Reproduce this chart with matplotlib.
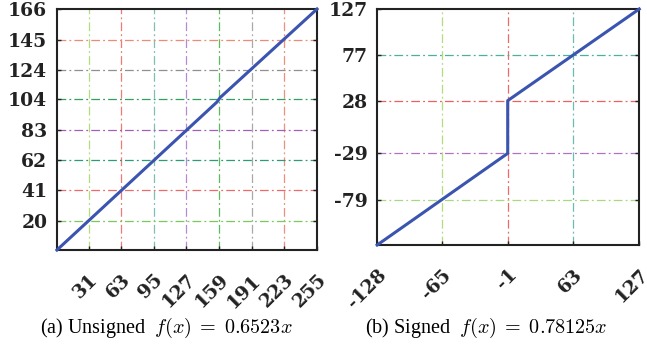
import numpy as np
import matplotlib.pyplot as plt

plt.rcParams['font.family'] = ['Liberation Serif', 'DejaVu Serif']
plt.rcParams['mathtext.fontset'] = 'cm'

# (a) unsigned mapping, small kink near 104
ux = [0, 157, 160, 255]
uy = [0, 102, 105, 166]
u_xticks = [31, 63, 95, 127, 159, 191, 223, 255]
u_yticks = [20, 41, 62, 83, 104, 124, 145, 166]
u_xgrid_col = ['#b5dc7a', '#ee7b76', '#7cc0b5', '#b68ad0', '#5cbb5c', '#a8a8a8', '#ee8f80']
u_ygrid_col = ['#7cc85a', '#ee6a6a', '#2e9a7a', '#a060b8', '#30a060', '#909090', '#ef8a78']

# (b) signed mapping with jump at -1
sx = [-128, -1, -1, 127]
sy = [-128, -29, 28, 127]
s_xticks = [-128, -65, -1, 63, 127]
s_yticks = [-79, -29, 28, 77, 127]
s_xgrid_col = ['#b5dc7a', '#ee6a6a', '#6abcb0']
s_ygrid_col = ['#a8d880', '#b070c8', '#ee6060', '#4cb0a0']

line_col = '#3a54b0'
dash = (0, (7, 2.5, 1.5, 2.5))
tick_font = dict(family='DejaVu Serif', size=13.5, weight='bold')

fig = plt.figure(figsize=(6.47, 3.47), dpi=100)
ax1 = fig.add_axes([0.088, 0.2795, 0.402, 0.6945])
ax2 = fig.add_axes([0.583, 0.294, 0.405, 0.680])


def style(ax, xt, yt, xlim, ylim):
    ax.set_xlim(*xlim)
    ax.set_ylim(*ylim)
    ax.set_xticks(xt)
    ax.set_yticks(yt)
    ax.set_xticklabels([str(v) for v in xt], rotation=45, ha='right', va='top',
                       rotation_mode='anchor', fontdict=tick_font)
    ax.set_yticklabels([str(v) for v in yt], fontdict=tick_font)
    ax.tick_params(direction='in', length=3, width=1, top=False, right=True,
                   colors='#222222', labelcolor='#222222')
    ax.tick_params(axis='x', pad=15)
    ax.tick_params(axis='y', pad=7)
    for sp in ax.spines.values():
        sp.set_linewidth(1.5)
        sp.set_color('#222222')


style(ax1, u_xticks, u_yticks, (0, 255), (0, 166))
for v, c in zip(u_xticks[:-1], u_xgrid_col):
    ax1.axvline(v, color=c, ls=dash, lw=0.9, zorder=1)
for v, c in zip(u_yticks[:-1], u_ygrid_col):
    ax1.axhline(v, color=c, ls=dash, lw=0.9, zorder=1)
ax1.plot(ux, uy, color=line_col, lw=2.2, zorder=3, clip_on=False)

style(ax2, s_xticks, s_yticks, (-128, 127), (-128, 127))
for v, c in zip(s_xticks[1:-1], s_xgrid_col):
    ax2.axvline(v, color=c, ls=dash, lw=0.9, zorder=1)
for v, c in zip(s_yticks[:-1], s_ygrid_col):
    ax2.axhline(v, color=c, ls=dash, lw=0.9, zorder=1)
ax2.plot(sx, sy, color=line_col, lw=2.2, zorder=3, clip_on=False)

fig.text(166 / 647, 1 - 328 / 347, r'(a) Unsigned  $f(x)\;=\;0.6523x$',
         ha='center', va='center', fontsize=14.5)
fig.text(486 / 647, 1 - 328 / 347, r'(b) Signed  $f(x)\;=\;0.78125x$',
         ha='center', va='center', fontsize=14.5)

fig.savefig('out.png', dpi=100)
